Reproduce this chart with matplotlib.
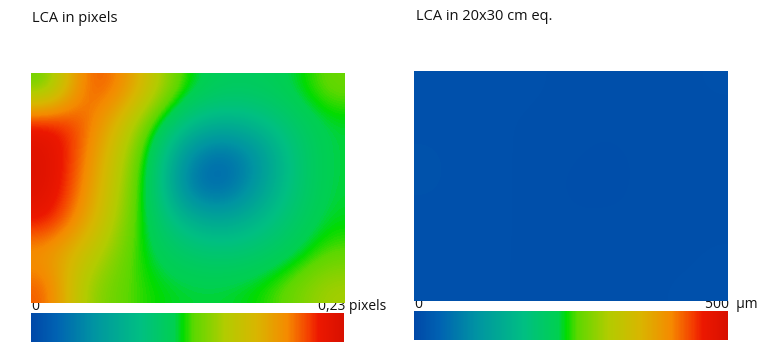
import numpy as np
import matplotlib
matplotlib.use("Agg")
import matplotlib.pyplot as plt
from matplotlib.colors import LinearSegmentedColormap, Normalize
from matplotlib.cm import ScalarMappable

plt.rcParams['font.family'] = ['Open Sans', 'DejaVu Sans']

# LCA in pixels (rows top->bottom, cols left->right)
lca_pixels = np.array([
    [0.12, 0.20, 0.195, 0.15, 0.110, 0.100, 0.100, 0.106, 0.124],
    [0.215, 0.20, 0.165, 0.115, 0.080, 0.068, 0.076, 0.094, 0.108],
    [0.225, 0.195, 0.15, 0.100, 0.040, 0.020, 0.045, 0.085, 0.108],
    [0.225, 0.19, 0.143, 0.098, 0.030, 0.018, 0.050, 0.086, 0.108],
    [0.215, 0.18, 0.137, 0.100, 0.070, 0.060, 0.074, 0.094, 0.110],
    [0.18, 0.157, 0.127, 0.106, 0.094, 0.090, 0.094, 0.104, 0.120],
    [0.20, 0.137, 0.122, 0.112, 0.108, 0.108, 0.112, 0.124, 0.140],
])
pixels_max = 0.23

# LCA in 20x30 cm equivalent (micrometres)
lca_um = np.array([
    [14, 15, 15, 14, 13, 13, 13, 13, 14],
    [15, 15, 14, 13, 13, 12, 13, 13, 13],
    [16, 15, 14, 13, 12, 11, 12, 13, 13],
    [16, 15, 14, 13, 11, 11, 12, 13, 13],
    [15, 15, 14, 13, 12, 12, 12, 13, 13],
    [15, 14, 14, 13, 13, 13, 13, 13, 14],
    [15, 14, 14, 13, 13, 13, 13, 14, 14],
])
um_max = 500

cmap = LinearSegmentedColormap.from_list('lca', [
    (0.00, '#0048a8'),
    (0.08, '#0062b2'),
    (0.20, '#0094a2'),
    (0.35, '#00bf82'),
    (0.46, '#00d050'),
    (0.485, '#00dc00'),
    (0.52, '#5cd800'),
    (0.62, '#b2cc00'),
    (0.72, '#d8b600'),
    (0.82, '#f58a00'),
    (0.89, '#f43c00'),
    (0.92, '#ec1800'),
    (1.00, '#d81000'),
])

W, H = 770, 357
fig = plt.figure(figsize=(W / 100, H / 100), dpi=100)

def box(x0, y0, x1, y1):
    return [x0 / W, 1 - y1 / H, (x1 - x0) / W, (y1 - y0) / H]

ax1 = fig.add_axes(box(31, 73, 344, 303))
ax1.imshow(lca_pixels, cmap=cmap, vmin=0, vmax=pixels_max, aspect='auto',
           interpolation='bicubic')
ax1.axis('off')

cax1 = fig.add_axes(box(31, 313, 344, 342))
cb1 = fig.colorbar(ScalarMappable(norm=Normalize(0, pixels_max), cmap=cmap),
                   cax=cax1, orientation='horizontal')
cb1.set_ticks([])
cb1.outline.set_visible(False)

ax2 = fig.add_axes(box(414, 71, 727, 301))
ax2.imshow(lca_um, cmap=cmap, vmin=0, vmax=um_max, aspect='auto',
           interpolation='bicubic')
ax2.axis('off')

cax2 = fig.add_axes(box(414, 311, 728, 340))
cb2 = fig.colorbar(ScalarMappable(norm=Normalize(0, um_max), cmap=cmap),
                   cax=cax2, orientation='horizontal')
cb2.set_ticks([])
cb2.outline.set_visible(False)

tc = '#111111'
fig.text(32 / W, 1 - 19 / H, 'LCA in pixels', fontsize=10.5, color=tc,
         va='center', ha='left')
fig.text(416 / W, 1 - 17 / H, 'LCA in 20x30 cm eq.', fontsize=10.5, color=tc,
         va='center', ha='left')

fig.text(31 / W, 1 - 307 / H, '0', fontsize=10, color=tc, va='center',
         ha='left', zorder=-1)
fig.text(386 / W, 1 - 307 / H, '0,23 pixels', fontsize=10, color=tc,
         va='center', ha='right', zorder=-1)
fig.text(414 / W, 1 - 305 / H, '0', fontsize=10, color=tc, va='center',
         ha='left', zorder=-1)
fig.text(758 / W, 1 - 305 / H, '500  µm', fontsize=10, color=tc,
         va='center', ha='right', zorder=-1)

fig.savefig('out.png', dpi=100)
